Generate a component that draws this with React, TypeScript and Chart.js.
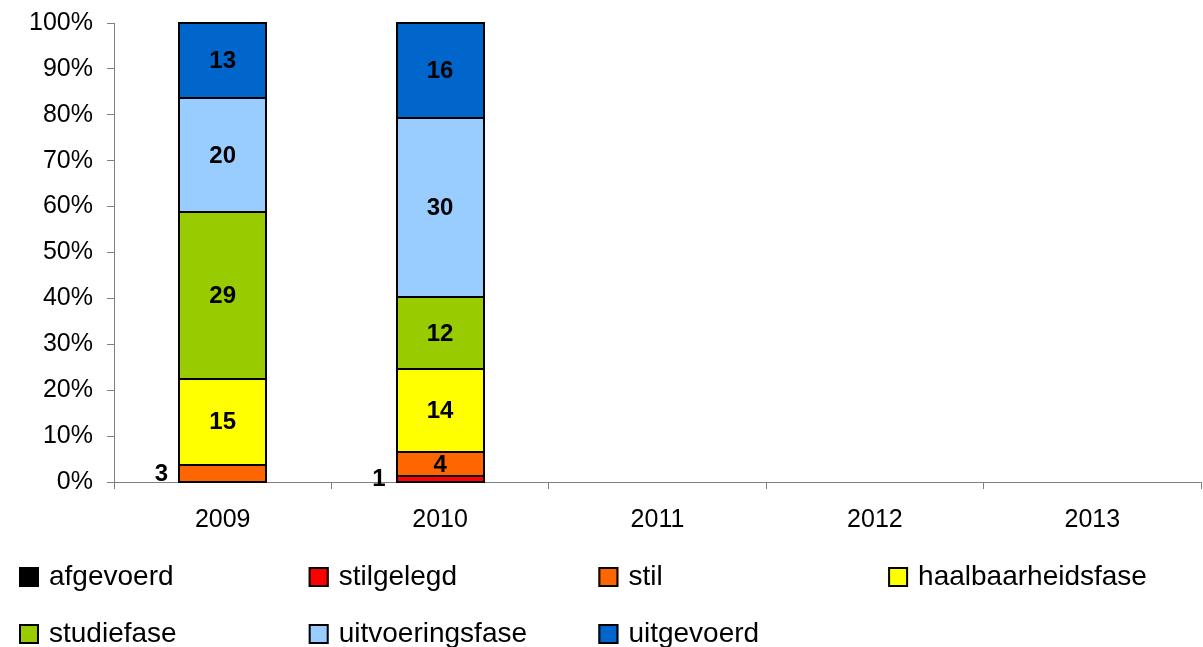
import React, { useEffect, useRef } from "react";
import { Chart, registerables } from "chart.js";

Chart.register(...registerables);

const categories = ["2009", "2010", "2011", "2012", "2013"];
const seriesNames = [
  "afgevoerd",
  "stilgelegd",
  "stil",
  "haalbaarheidsfase",
  "studiefase",
  "uitvoeringsfase",
  "uitgevoerd",
];
const afgevoerd = [0, 0, null, null, null];
const stilgelegd = [0, 1, null, null, null];
const stil = [3, 4, null, null, null];
const haalbaarheidsfase = [15, 14, null, null, null];
const studiefase = [29, 12, null, null, null];
const uitvoeringsfase = [20, 30, null, null, null];
const uitgevoerd = [13, 16, null, null, null];
const seriesColors = ["#000000", "#FF0000", "#FF6600", "#FFFF00", "#99CC00", "#99CCFF", "#0066CC"];
const yTickStep = 10;

const FONT = '"Liberation Sans", Arial, sans-serif';

export default function App() {
  const canvasRef = useRef<HTMLCanvasElement | null>(null);

  useEffect(() => {
    const counts: (number | null)[][] = [
      afgevoerd,
      stilgelegd,
      stil,
      haalbaarheidsfase,
      studiefase,
      uitvoeringsfase,
      uitgevoerd,
    ];
    const totals = categories.map((_, j) =>
      counts.reduce((s, arr) => s + (arr[j] || 0), 0)
    );
    const datasets = counts.map((arr, i) => ({
      label: seriesNames[i],
      data: arr.map((v, j) => (v && totals[j] ? (v / totals[j]) * 100 : null)),
      backgroundColor: seriesColors[i],
      borderWidth: 0,
      categoryPercentage: 1,
      barPercentage: 0.4,
    }));

    const labelPlugin = {
      id: "segLabels",
      afterDatasetsDraw(chart: any) {
        const ctx = chart.ctx;
        ctx.save();
        // outlines
        ctx.lineWidth = 2;
        ctx.strokeStyle = "#000000";
        counts.forEach((arr, i) => {
          const meta = chart.getDatasetMeta(i);
          arr.forEach((v, j) => {
            if (!v) return;
            const el = meta.data[j];
            if (!el) return;
            const p = el.getProps(["x", "y", "base", "width"], true);
            const l = Math.round(p.x - p.width / 2);
            const r = Math.round(p.x + p.width / 2);
            const t = Math.round(p.y);
            const b = Math.round(p.base);
            ctx.strokeRect(l, t, r - l, b - t);
          });
        });
        // values
        ctx.font = `bold 24px ${FONT}`;
        ctx.fillStyle = "#000000";
        ctx.textBaseline = "middle";
        counts.forEach((arr, i) => {
          const meta = chart.getDatasetMeta(i);
          arr.forEach((v, j) => {
            if (!v) return;
            const el = meta.data[j];
            if (!el) return;
            const p = el.getProps(["x", "y", "base", "width"], true);
            const h = p.base - p.y;
            const cy = (p.y + p.base) / 2;
            if (h >= 20) {
              ctx.textAlign = "center";
              ctx.fillText(String(v), p.x, cy + 1);
            } else {
              ctx.textAlign = "right";
              ctx.fillText(String(v), p.x - p.width / 2 - 11, cy + 1);
            }
          });
        });
        ctx.restore();
      },
    };

    const legendPlugin = {
      id: "customLegend",
      afterDraw(chart: any) {
        const ctx = chart.ctx;
        ctx.save();
        ctx.font = `28px ${FONT}`;
        ctx.textBaseline = "middle";
        ctx.textAlign = "left";
        seriesNames.forEach((name, i) => {
          const col = i % 4;
          const row = Math.floor(i / 4);
          const bx = 19 + col * 289.7;
          const by = 567 + row * 57;
          ctx.fillStyle = seriesColors[i];
          ctx.fillRect(bx, by, 20, 20);
          ctx.lineWidth = 2;
          ctx.strokeStyle = "#000000";
          ctx.strokeRect(bx + 1, by + 1, 18, 18);
          ctx.fillStyle = "#000000";
          ctx.fillText(name, bx + 30, by + 10);
        });
        ctx.restore();
      },
    };

    const chart = new Chart(canvasRef.current as HTMLCanvasElement, {
      type: "bar",
      data: { labels: categories, datasets },
      options: {
        animation: false,
        responsive: false,
        maintainAspectRatio: false,
        devicePixelRatio: 1,
        layout: { padding: { top: 23, right: 2, left: 0, bottom: 0 } },
        plugins: {
          legend: { display: false },
          tooltip: { enabled: false },
        },
        scales: {
          x: {
            stacked: true,
            offset: true,
            grid: {
              offset: true,
              drawOnChartArea: false,
              drawTicks: true,
              tickLength: 7,
              color: "#808080",
            },
            border: { color: "#808080", width: 1 },
            ticks: {
              color: "#000000",
              font: { family: FONT, size: 25 },
              padding: 16,
              maxRotation: 0,
            },
            afterFit(scale: any) {
              scale.height = 165;
              scale.paddingLeft = 0;
              scale.paddingRight = 0;
            },
          },
          y: {
            stacked: true,
            min: 0,
            max: 100,
            grid: {
              drawOnChartArea: false,
              drawTicks: true,
              tickLength: 7,
              color: "#808080",
            },
            border: { color: "#808080", width: 1 },
            ticks: {
              stepSize: yTickStep,
              color: "#000000",
              font: { family: FONT, size: 25 },
              padding: 14,
              callback: (v: any) => `${v}%`,
            },
            afterFit(scale: any) {
              scale.width = 114;
              scale.paddingTop = 0;
              scale.paddingBottom = 0;
            },
          },
        },
      },
      plugins: [labelPlugin, legendPlugin],
    });
    return () => chart.destroy();
  }, []);

  return (
    <div style={{ position: "absolute", left: 0, top: 0, width: 1203, height: 647, background: "#ffffff" }}>
      <canvas ref={canvasRef} width={1203} height={647} style={{ width: 1203, height: 647, display: "block" }} />
    </div>
  );
}
